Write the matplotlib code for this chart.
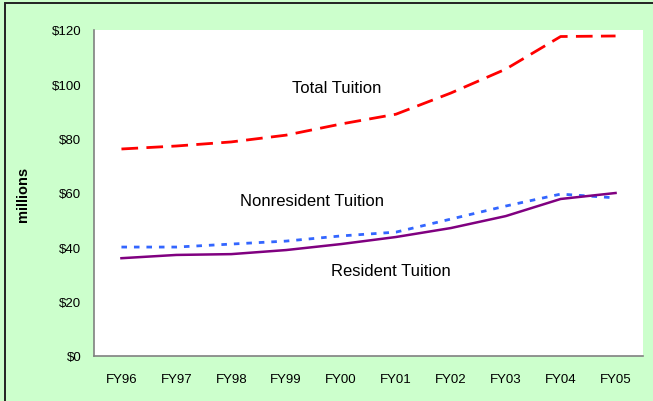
import matplotlib
matplotlib.use('Agg')
import matplotlib.pyplot as plt
from matplotlib.patches import Rectangle

plt.rcParams['font.family'] = ['Liberation Sans', 'DejaVu Sans']

# datos (millones de dólares)
years = ['FY96', 'FY97', 'FY98', 'FY99', 'FY00', 'FY01', 'FY02', 'FY03', 'FY04', 'FY05']
total = [76.2, 77.3, 78.8, 81.3, 85.4, 89.0, 96.8, 105.6, 117.6, 117.8]
nonresident = [40.1, 40.1, 41.2, 42.3, 44.2, 45.6, 50.4, 55.2, 59.6, 58.2]
resident = [36.0, 37.2, 37.5, 39.0, 41.2, 43.8, 47.1, 51.5, 57.8, 60.0]
yticks = [0, 20, 40, 60, 80, 100, 120]

fig = plt.figure(figsize=(6.53, 4.02), dpi=100)
fig.patch.set_facecolor('#CCFFCC')
# marco negro (solo se ven los bordes superior e izquierdo, la imagen está recortada)
fig.patches.append(Rectangle((0.008, -0.1), 1.2, 1.09, transform=fig.transFigure,
                             fill=False, edgecolor='#222222', linewidth=1.4))

ax = fig.add_axes([94 / 653, 1 - 357 / 402, (643 - 94) / 653, (357 - 31) / 402])
ax.set_facecolor('white')

x = list(range(len(years)))
ax.plot(x, total, color='#FF0000', linewidth=2, dashes=(6, 3))
ax.plot(x, nonresident, color='#3366FF', linewidth=2, dashes=(2, 2.5))
ax.plot(x, resident, color='#800080', linewidth=1.8)

ax.set_xlim(-0.5, len(years) - 0.5)
ax.set_ylim(0, 120)
ax.set_xticks(x)
ax.set_xticklabels(years)
ax.set_yticks(yticks)
ax.set_yticklabels(['$%d' % v for v in yticks])
ax.tick_params(length=0, labelsize=9.5, pad=12)
ax.tick_params(axis='y', pad=9)

for s in ['top', 'right']:
    ax.spines[s].set_visible(False)
for s in ['left', 'bottom']:
    ax.spines[s].set_color('#808080')
    ax.spines[s].set_linewidth(1.2)

ax.set_ylabel('millions', fontsize=10.5, fontweight='bold', labelpad=16)

# etiquetas de las series
ax.text(3.1, 99, 'Total Tuition', fontsize=12, ha='left', va='center')
ax.text(2.16, 57.4, 'Nonresident Tuition', fontsize=12, ha='left', va='center')
ax.text(3.82, 31.3, 'Resident Tuition', fontsize=12, ha='left', va='center')

plt.savefig('out.png', dpi=100, facecolor=fig.get_facecolor())
